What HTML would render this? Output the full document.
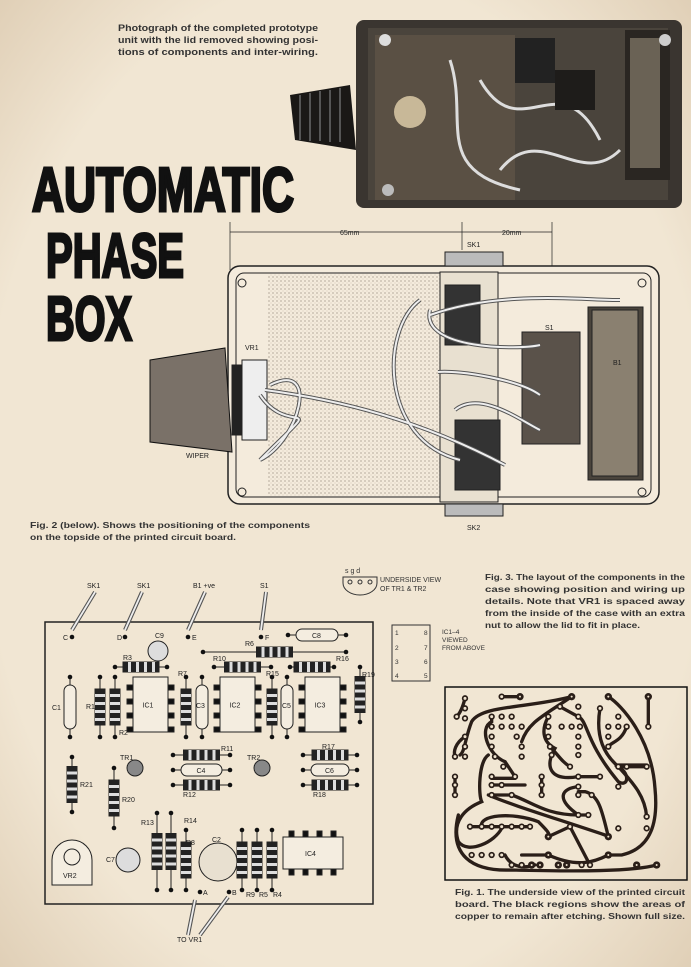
<!DOCTYPE html>
<html><head><meta charset="utf-8"><style>
html,body{margin:0;padding:0;background:#efe3cf}
body{width:691px;height:967px;overflow:hidden;position:relative;font-family:"Liberation Sans",sans-serif}
svg{position:absolute;left:0;top:0}
</style></head><body>
<svg id="s" width="691" height="967" viewBox="0 0 691 967" xmlns="http://www.w3.org/2000/svg">
<defs>
<pattern id="dots" width="4" height="4" patternUnits="userSpaceOnUse"><circle cx="1" cy="1" r="0.6" fill="#8a7f70"/><circle cx="3" cy="3" r="0.4" fill="#a89c8a"/></pattern>
<radialGradient id="pg" cx="50%" cy="50%" r="75%"><stop offset="70%" stop-color="#f1e6d3"/><stop offset="100%" stop-color="#dccab0"/></radialGradient>
</defs>
<rect width="691" height="967" fill="url(#pg)"/>
<!-- photo caption -->
<g font-size="9.5" fill="#333" font-weight="bold">
<text x="118" y="31" textLength="200" lengthAdjust="spacingAndGlyphs">Photograph of the completed prototype</text>
<text x="118" y="43" textLength="200" lengthAdjust="spacingAndGlyphs">unit with the lid removed showing posi-</text>
<text x="118" y="55" textLength="200" lengthAdjust="spacingAndGlyphs">tions of components and inter-wiring.</text></g>
<!-- photo -->
<rect x="356" y="20" width="326" height="188" rx="8" fill="#3a3530"/>
<rect x="368" y="28" width="300" height="172" fill="#4a443c"/>
<rect x="375" y="35" width="140" height="165" fill="#5a5044"/>
<rect x="625" y="30" width="45" height="150" fill="#2a2622"/>
<rect x="630" y="38" width="30" height="130" fill="#6a6255"/>
<circle cx="410" cy="112" r="16" fill="#c8b898"/>
<circle cx="385" cy="40" r="6" fill="#ddd"/><circle cx="665" cy="40" r="6" fill="#ccc"/><circle cx="388" cy="190" r="6" fill="#bbb"/>
<path d="M480 80 C520 150 560 60 600 140 M500 170 C540 120 580 190 620 150 M450 60 C470 120 430 170 520 190" stroke="#ddd" stroke-width="3" fill="none"/>
<rect x="515" y="38" width="40" height="45" fill="#222"/><rect x="555" y="70" width="40" height="40" fill="#1e1c1a"/>
<path d="M290 95 L350 85 L356 150 L295 140 Z" fill="#1a1816"/>
<path d="M300 95 v45 M310 93 v48 M320 91 v50 M330 90 v52 M340 88 v54" stroke="#555" stroke-width="2"/>
<!-- title -->
<g font-family="Liberation Sans Narrow, Liberation Sans, sans-serif" font-weight="bold" fill="#111" stroke="#111" stroke-width="3">
<text x="32" y="211" font-size="62" textLength="262" lengthAdjust="spacingAndGlyphs">AUTOMATIC</text>
<text x="46" y="277" font-size="62" textLength="138" lengthAdjust="spacingAndGlyphs">PHASE</text>
<text x="46" y="340" font-size="62" textLength="86" lengthAdjust="spacingAndGlyphs">BOX</text>
</g>
<!-- case diagram -->
<g stroke="#222" fill="none" font-size="7" >
<line x1="230" y1="232" x2="552" y2="232" stroke-width="0.7"/>
<line x1="230" y1="222" x2="230" y2="270" stroke-width="0.7"/>
<line x1="462" y1="222" x2="462" y2="250" stroke-width="0.7"/>
<line x1="552" y1="222" x2="552" y2="340" stroke-width="0.7"/>
<rect x="228" y="266" width="431" height="238" rx="12" stroke-width="1.5" fill="#f4ebdc"/>
<rect x="236" y="273" width="415" height="224" rx="8" stroke-width="1"/>
<rect x="268" y="274" width="188" height="222" fill="url(#dots)" stroke="none"/>
<circle cx="242" cy="283" r="4"/><circle cx="642" cy="283" r="4"/><circle cx="242" cy="492" r="4"/><circle cx="642" cy="492" r="4"/>
<path d="M150 360 L225 348 L232 452 L150 442 Z" fill="#7a7168" stroke="#111"/>
<rect x="232" y="365" width="10" height="70" fill="#222"/>
<rect x="242" y="360" width="25" height="80" fill="#eee" stroke="#222"/>
<rect x="440" y="272" width="58" height="230" fill="#e8e0d0"/>
<rect x="445" y="285" width="35" height="60" fill="#333"/>
<rect x="455" y="420" width="45" height="70" fill="#333"/>
<rect x="445" y="252" width="58" height="14" fill="#bbb"/>
<rect x="445" y="504" width="58" height="12" fill="#bbb"/>
<rect x="522" y="332" width="58" height="112" fill="#5a524a"/>
<rect x="588" y="307" width="55" height="173" fill="#4a443c"/>
<rect x="592" y="310" width="46" height="166" fill="#8a8070"/>
<path d="M420 300 C380 330 380 440 460 460 M430 310 C420 350 520 350 540 345 M430 315 C500 290 580 300 620 300 M438 372 C460 370 520 380 540 395 M265 390 C340 400 420 420 505 465 M260 395 C290 440 330 390 260 460 M270 385 C320 360 300 440 260 460 M455 410 C480 390 520 420 540 430" stroke="#555" stroke-width="4"/>
<path d="M420 300 C380 330 380 440 460 460 M430 310 C420 350 520 350 540 345 M430 315 C500 290 580 300 620 300 M438 372 C460 370 520 380 540 395 M265 390 C340 400 420 420 505 465 M260 395 C290 440 330 390 260 460 M270 385 C320 360 300 440 260 460 M455 410 C480 390 520 420 540 430" stroke="#eee" stroke-width="2"/>
</g>
<g font-size="7" fill="#222">
<text x="340" y="235">65mm</text><text x="502" y="235">20mm</text>
<text x="467" y="247">SK1</text><text x="467" y="530">SK2</text>
<text x="245" y="350">VR1</text><text x="186" y="458">WIPER</text>
<text x="545" y="330">S1</text><text x="613" y="365">B1</text>
</g>
<g font-size="8.5" fill="#333" font-weight="bold">
<text x="30" y="528" textLength="280" lengthAdjust="spacingAndGlyphs">Fig. 2 (below). Shows the positioning of the components</text>
<text x="30" y="540" textLength="206" lengthAdjust="spacingAndGlyphs">on the topside of the printed circuit board.</text></g>
<!-- underside view -->
<path d="M343 577 h34 v6 a17 12 0 0 1 -34 0 z" fill="none" stroke="#333"/>
<circle cx="350" cy="582" r="2" fill="none" stroke="#333"/><circle cx="360" cy="582" r="2" fill="none" stroke="#333"/><circle cx="370" cy="582" r="2" fill="none" stroke="#333"/>
<text x="345" y="573" font-size="7" fill="#333">s  g  d</text>
<text x="380" y="582" font-size="7" fill="#333">UNDERSIDE VIEW</text>
<text x="380" y="591" font-size="7" fill="#333">OF TR1 &amp; TR2</text>
<rect x="392" y="625" width="38" height="56" fill="none" stroke="#333"/>
<g font-size="6.5" fill="#333"><text x="395" y="635">1</text><text x="395" y="650">2</text><text x="395" y="664">3</text><text x="395" y="678">4</text>
<text x="424" y="635">8</text><text x="424" y="650">7</text><text x="424" y="664">6</text><text x="424" y="678">5</text>
<text x="442" y="634">IC1–4</text><text x="442" y="642">VIEWED</text><text x="442" y="650">FROM ABOVE</text></g>
<g font-size="8.5" fill="#333" font-weight="bold">
<text x="485" y="580" textLength="200" lengthAdjust="spacingAndGlyphs">Fig. 3. The layout of the components in the</text>
<text x="485" y="592" textLength="200" lengthAdjust="spacingAndGlyphs">case showing position and wiring up</text>
<text x="485" y="604" textLength="200" lengthAdjust="spacingAndGlyphs">details. Note that VR1 is spaced away</text>
<text x="485" y="616" textLength="200" lengthAdjust="spacingAndGlyphs">from the inside of the case with an extra</text>
<text x="485" y="628" textLength="155" lengthAdjust="spacingAndGlyphs">nut to allow the lid to fit in place.</text></g>
<!-- foil pcb -->
<rect x="445" y="687" width="242" height="193" fill="none" stroke="#111" stroke-width="1.5"/>
<g transform="translate(445,655) scale(0.3333)" stroke="#2a1e18" stroke-width="10" fill="none" stroke-linecap="round">
<path d="M380 125 C250 160 110 150 80 200 C60 250 60 290 45 300"/>
<path d="M130 300 C100 320 100 420 110 440 C60 460 20 500 40 560 C70 600 150 560 170 520"/>
<path d="M490 125 C530 150 620 250 630 400 C640 500 620 580 530 600 L490 600"/>
<path d="M610 125 V215 M170 125 H225"/>
<path d="M140 185 V200 C100 220 130 300 180 320 L210 365"/>
<path d="M380 125 C300 180 250 200 230 260"/>
<path d="M310 185 C290 220 290 260 330 280 C300 330 310 380 400 365 H465"/>
<path d="M315 275 C340 300 350 320 375 335"/>
<path d="M400 185 C430 200 420 260 520 380 C550 400 560 350 510 330 H605"/>
<path d="M140 370 H210 M140 390 H240 M140 420 H200 C260 440 300 480 400 480 H430"/>
<path d="M130 420 C200 450 300 480 480 540 L490 545 C470 460 460 420 420 410 H400"/>
<path d="M310 545 L375 515 L435 630"/>
<path d="M75 515 H255 M110 515 C100 480 200 470 280 500 C300 520 320 540 310 545"/>
<path d="M180 600 C200 640 240 640 270 630 M230 600 H310 C400 640 450 620 490 600"/>
<path d="M40 480 C10 600 80 650 200 645 C400 650 560 650 635 630"/>
<path d="M545 215 C530 260 500 260 490 275 M520 335 H605"/>
<path d="M30 365 V420 M290 365 V420"/>
<path d="M60 130 C50 170 40 180 35 185 M60 245 C30 265 25 290 30 305"/>
<path d="M465 160 C450 250 480 300 520 335 C560 380 600 420 605 485"/>
<path d="M345 155 L400 185 M400 395 C350 400 330 430 400 480"/>
</g>
<g id="pads" transform="translate(445,655) scale(0.3333)"></g>
<g font-size="8.5" fill="#333" font-weight="bold">
<text x="455" y="895" textLength="230" lengthAdjust="spacingAndGlyphs">Fig. 1. The underside view of the printed circuit</text>
<text x="455" y="907" textLength="230" lengthAdjust="spacingAndGlyphs">board. The black regions show the areas of</text>
<text x="455" y="919" textLength="230" lengthAdjust="spacingAndGlyphs">copper to remain after etching. Shown full size.</text></g>
<!-- component pcb -->
<rect x="45" y="622" width="328" height="282" fill="none" stroke="#222" stroke-width="1.5"/>
<g id="comp" stroke="#222" fill="none"></g>
<g font-size="7" fill="#222">
<text x="87" y="588">SK1</text><text x="137" y="588">SK1</text><text x="193" y="588">B1 +ve</text><text x="260" y="588">S1</text>
<text x="177" y="942">TO VR1</text>
</g>
<g stroke="#555" stroke-width="4" fill="none"><path d="M72 630 L95 592 M125 630 L142 592 M188 630 L205 592 M261 630 L266 592 M195 900 L188 935 M228 897 L200 935"/></g>
<g stroke="#eee" stroke-width="1.8" fill="none"><path d="M72 630 L95 592 M125 630 L142 592 M188 630 L205 592 M261 630 L266 592 M195 900 L188 935 M228 897 L200 935"/></g>
</svg>
<script>
const ns='http://www.w3.org/2000/svg';
const pg=document.getElementById('pads');
const P=[[60,130],[170,125],[225,125,1],[380,125,1],[490,125,1],[610,125,1],[465,160],[400,155],[345,155],[60,160],[35,185],[60,190],[140,185],[170,185],[200,185],[310,185],[400,185],[520,185],[140,215],[170,215],[200,215],[230,215],[310,215],[350,215],[380,215],[405,215],[490,215],[520,215],[545,215],[610,215],[60,245],[140,245],[215,245],[310,245],[400,245],[490,245],[60,275],[140,275],[230,275],[315,275],[400,275],[490,275],[30,305],[60,305],[150,305],[230,305],[320,300],[400,300],[175,335],[375,335],[520,335],[545,335],[605,335],[30,365],[140,365],[210,365],[290,365],[400,365],[465,365],[30,390],[140,390],[170,390],[290,390],[400,395],[520,395],[30,420],[140,420],[200,420],[290,420],[400,420],[440,420],[400,480],[430,480],[605,485],[605,520],[75,515],[110,515],[140,515],[170,515],[200,515],[230,515],[255,515],[375,515],[520,520],[310,545,1],[490,545,1],[80,600],[110,600],[140,600],[170,600],[310,600,1],[490,600,1],[200,630],[230,630],[260,630,1],[285,630,1],[340,630,1],[365,630,1],[410,630],[435,630],[575,630,1],[635,630,1]];
for(const p of P){const c=document.createElementNS(ns,'circle');c.setAttribute('cx',p[0]);c.setAttribute('cy',p[1]);if(p[2]){c.setAttribute('r',11);c.setAttribute('fill','#2a1e18');const d=document.createElementNS(ns,'circle');pg.appendChild(c);d.setAttribute('cx',p[0]);d.setAttribute('cy',p[1]);d.setAttribute('r',3);d.setAttribute('fill','#efe3cf');pg.appendChild(d);continue;}else{c.setAttribute('r',7);c.setAttribute('fill','#efe3cf');c.setAttribute('stroke','#2a1e18');c.setAttribute('stroke-width',5);}pg.appendChild(c);}
const g=document.getElementById('comp');
function el(t,a,txt){const e=document.createElementNS(ns,t);for(const k in a)e.setAttribute(k,a[k]);if(txt){e.textContent=txt;}g.appendChild(e);return e;}
function dot(x,y){el('circle',{cx:x,cy:y,r:2.3,fill:'#111',stroke:'none'});}
function txt(x,y,s){el('text',{x:x,y:y,'font-size':7,fill:'#222',stroke:'none'},s);}
function resH(x1,x2,y,l){el('line',{x1:x1,y1:y,x2:x2,y2:y});dot(x1,y);dot(x2,y);const m=(x1+x2)/2;el('rect',{x:m-18,y:y-5,width:36,height:10,fill:'#222'});for(let i=0;i<4;i++)el('rect',{x:m-13+i*8,y:y-5,width:3,height:10,fill:'#ddd',stroke:'none'});if(l)txt(l[1],l[2],l[0]);}
function resV(x,y1,y2,l){el('line',{x1:x,y1:y1,x2:x,y2:y2});dot(x,y1);dot(x,y2);const m=(y1+y2)/2;el('rect',{x:x-5,y:m-18,width:10,height:36,fill:'#222'});for(let i=0;i<4;i++)el('rect',{x:x-5,y:m-13+i*8,width:10,height:3,fill:'#ddd',stroke:'none'});if(l)txt(l[1],l[2],l[0]);}
function ic(x,y,w,h,l,hor){el('rect',{x:x,y:y,width:w,height:h,fill:'#f4ede0'});if(!hor){for(let i=0;i<4;i++){el('rect',{x:x-6,y:y+8+i*14,width:6,height:5,fill:'#111'});el('rect',{x:x+w,y:y+8+i*14,width:6,height:5,fill:'#111'});}}else{for(let i=0;i<4;i++){el('rect',{x:x+6+i*14,y:y-6,width:5,height:6,fill:'#111'});el('rect',{x:x+6+i*14,y:y+h,width:5,height:6,fill:'#111'});}}txt(x+w/2-8,y+h/2+3,l);}
function capH(x1,x2,y,l){el('line',{x1:x1,y1:y,x2:x2,y2:y});dot(x1,y);dot(x2,y);el('rect',{x:x1+8,y:y-6,width:x2-x1-16,height:12,rx:6,fill:'#f4ede0'});txt((x1+x2)/2-5,y+3,l);}
function capV(x,y1,y2,l){el('line',{x1:x,y1:y1,x2:x,y2:y2});dot(x,y1);dot(x,y2);el('rect',{x:x-6,y:y1+8,width:12,height:y2-y1-16,rx:6,fill:'#f4ede0'});}
dot(72,637);dot(125,637);dot(188,637);dot(261,637);txt(63,640,'C');txt(117,640,'D');txt(192,640,'E');txt(265,640,'F');
capH(288,346,635,'C8');txt(155,638,'C9');el('circle',{cx:158,cy:651,r:10,fill:'#ddd'});
resH(203,346,652,['R6',245,646]);resH(115,167,667,['R3',123,660]);resH(214,271,667,['R10',213,661]);resH(290,334,667,['R16',336,661]);
resV(360,667,722,['R19',362,677]);
ic(133,677,35,55,'IC1');ic(220,677,35,55,'IC2');ic(305,677,35,55,'IC3');
capV(70,677,737,'');txt(52,710,'C1');resV(100,677,737,['R1',86,709]);resV(115,677,737,['R2',119,735]);
resV(186,677,737,['R7',178,676]);capV(202,677,737,'');txt(196,708,'C3');
resV(272,677,737,['R15',266,676]);capV(287,677,737,'');txt(282,708,'C5');
resH(173,230,755,['R11',221,751]);capH(173,230,770,'C4');resH(173,230,785,['R12',183,797]);
resH(303,357,755,['R17',322,749]);capH(303,357,770,'C6');resH(303,357,785,['R18',313,797]);
el('circle',{cx:135,cy:768,r:8,fill:'#888'});txt(120,760,'TR1');el('circle',{cx:262,cy:768,r:8,fill:'#888'});txt(247,760,'TR2');
resV(72,757,812,['R21',80,787]);resV(114,768,828,['R20',122,802]);
el('path',{d:'M52 860 a20 20 0 0 1 40 0 v25 h-40 z',fill:'#f4ede0'});el('circle',{cx:72,cy:857,r:8});txt(63,878,'VR2');
el('circle',{cx:128,cy:860,r:12,fill:'#ddd'});txt(106,862,'C7');
resV(157,813,890,['R13',141,825]);resV(171,813,890,['R14',184,823]);resV(186,830,890,['R8',186,845]);
el('circle',{cx:218,cy:862,r:19,fill:'#e8e0d0'});txt(212,842,'C2');
resV(242,830,890,['R9',246,897]);resV(257,830,890,['R5',259,897]);resV(272,830,890,['R4',273,897]);
ic(283,837,60,32,'IC4',true);dot(200,892);dot(229,892);txt(203,895,'A');txt(232,895,'B');
</script>
</body></html>
